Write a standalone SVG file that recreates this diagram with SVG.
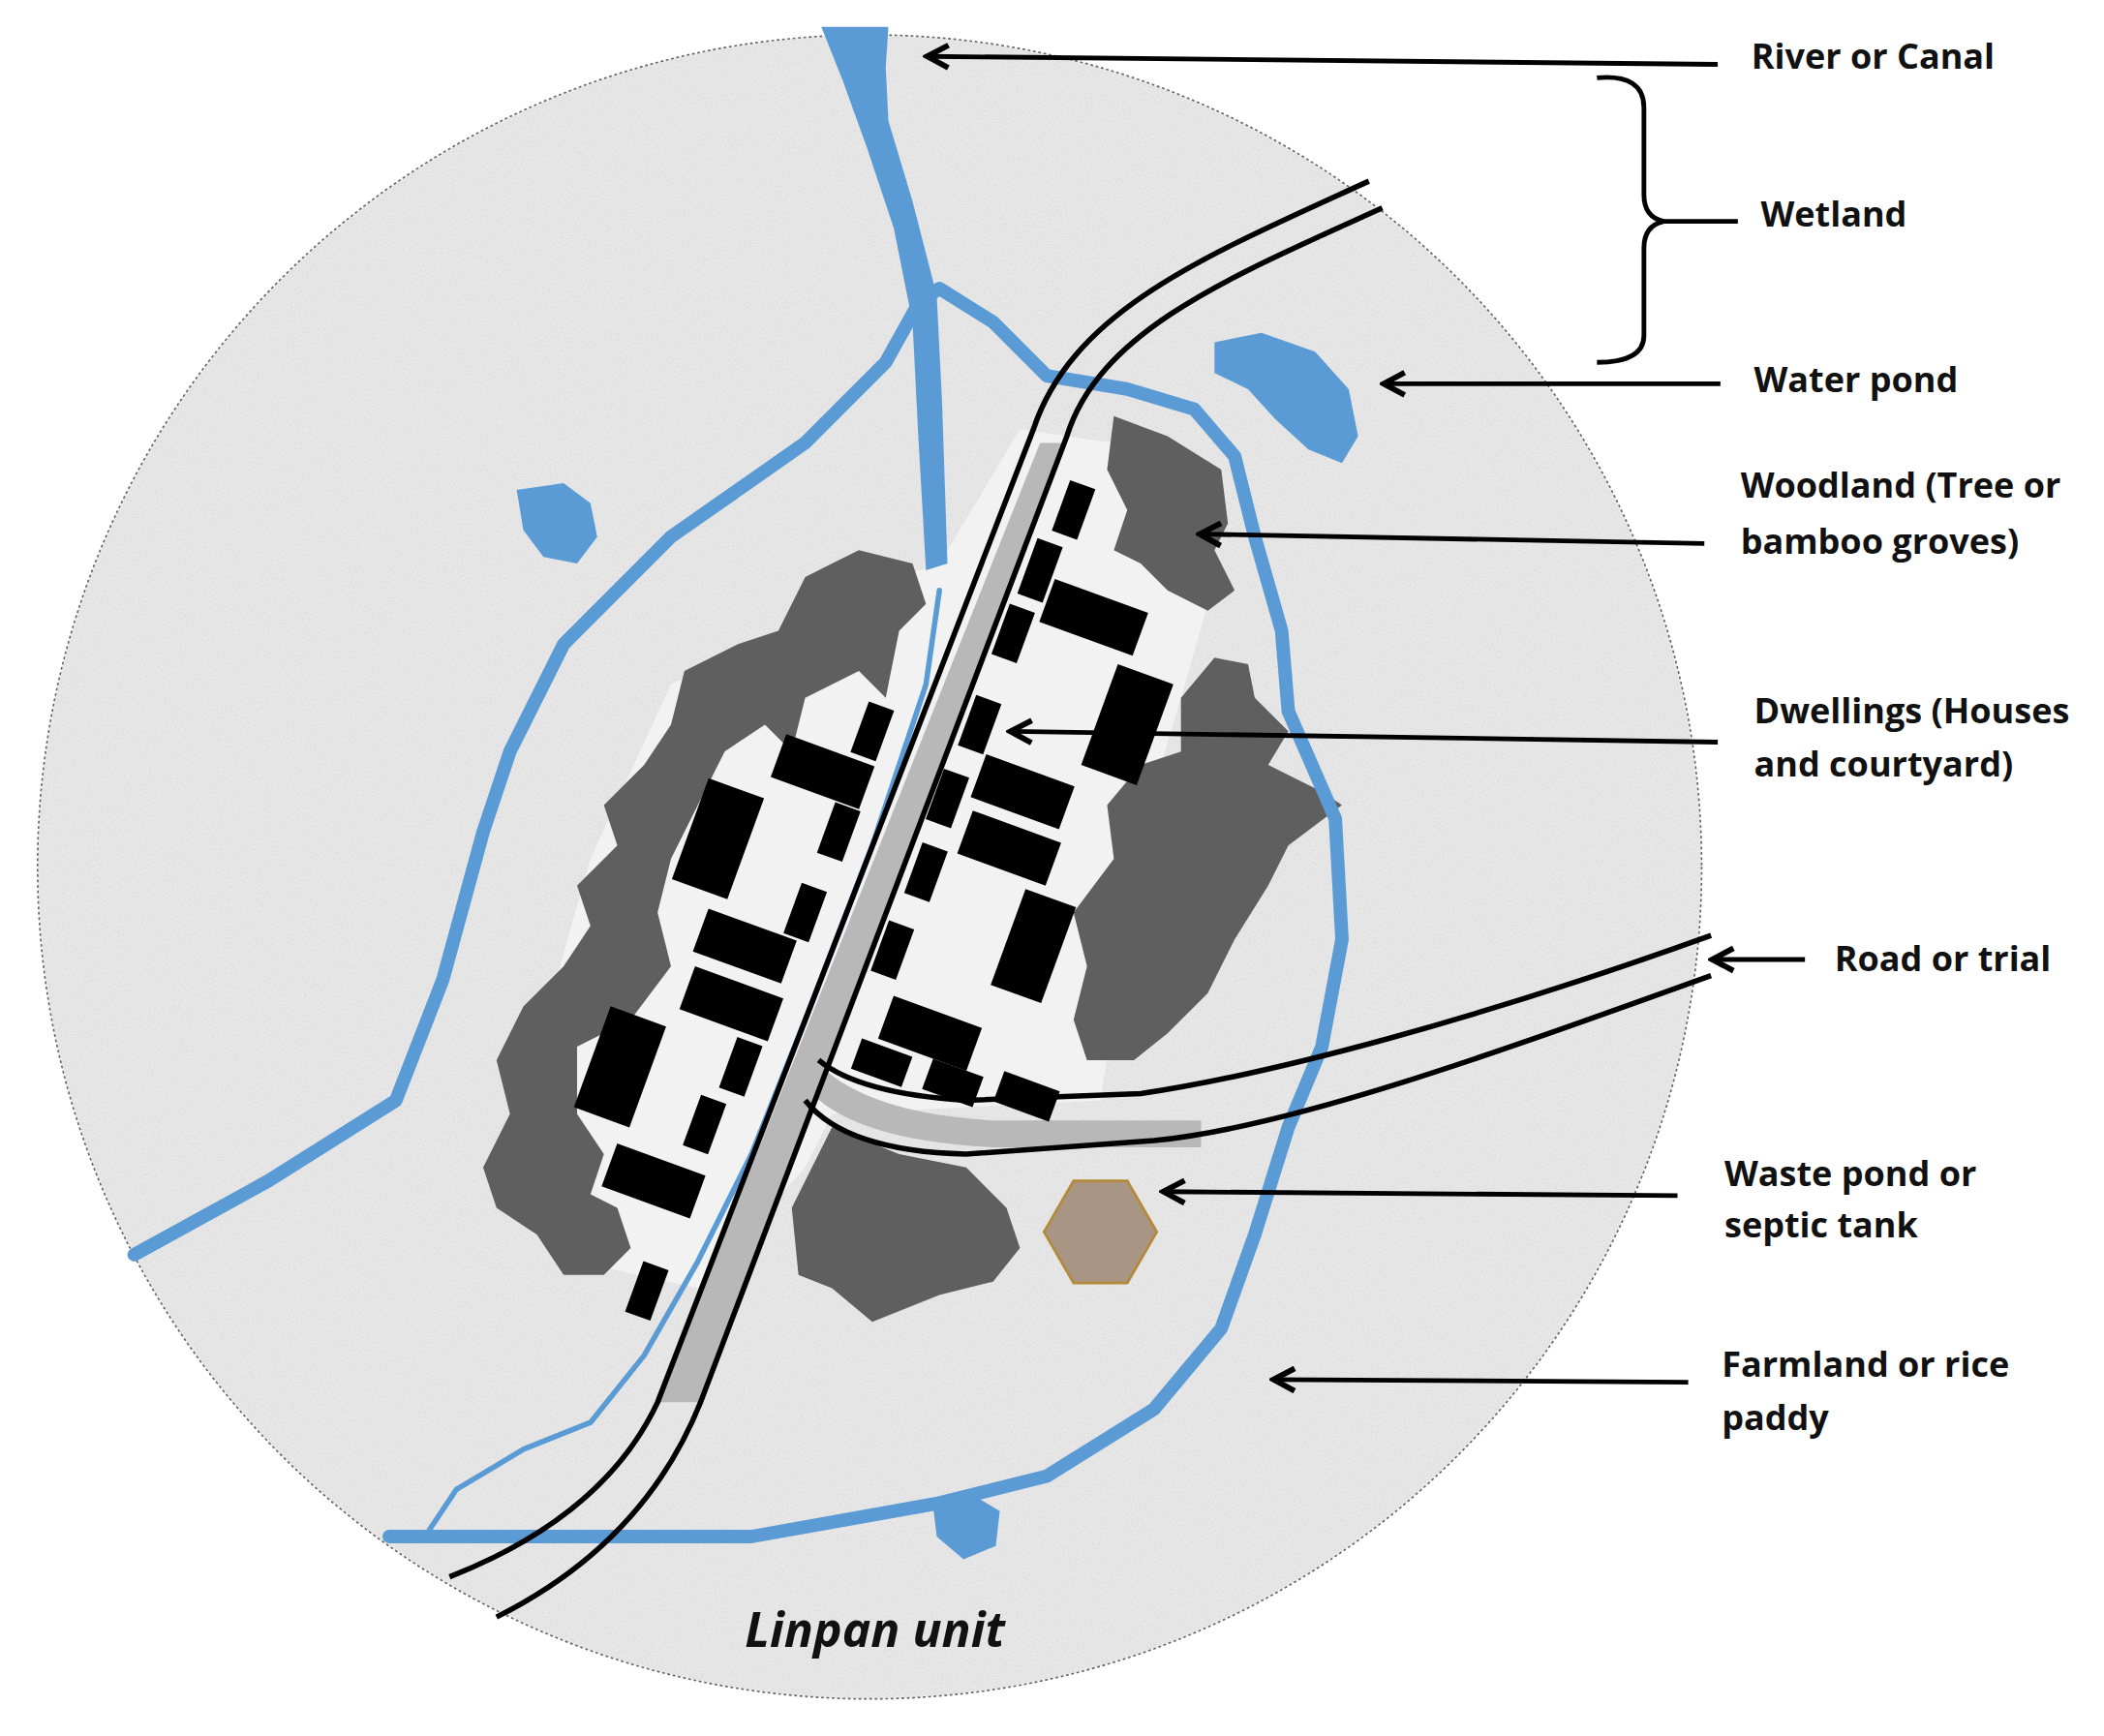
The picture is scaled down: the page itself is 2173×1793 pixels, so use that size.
<svg xmlns="http://www.w3.org/2000/svg" width="2173" height="1793" viewBox="0 0 2173 1793">
<style>
.lbl{font-family:"Open Sans","Liberation Sans",sans-serif;font-weight:bold;font-size:26px;fill:#111}
.ar{stroke:#000;stroke-width:3.5;fill:none}
.wood{fill:#5f5f5f}
.bld{fill:#000}
.water{fill:#5b9bd5}
.riv{stroke:#5b9bd5;fill:none;stroke-linecap:round;stroke-linejoin:round}
</style>
<defs>
<marker id="ah" viewBox="0 0 10 10" refX="8" refY="5" markerWidth="6" markerHeight="6" orient="auto" markerUnits="strokeWidth"><path d="M1,1 L8.5,5 L1,9" fill="none" stroke="#000" stroke-width="2"/></marker>
<filter id="grain"><feTurbulence type="fractalNoise" baseFrequency="0.9" numOctaves="2" seed="3"/><feColorMatrix values="0 0 0 0 0.6  0 0 0 0 0.6  0 0 0 0 0.6  0 0 0 -1.4 1.15"/><feComposite in2="SourceGraphic" operator="in"/></filter>
</defs>
<rect width="2173" height="1793" fill="#fff"/>
<g transform="scale(1.386)">
<g id="farmland">
<circle cx="648" cy="646" r="620" fill="#ececec" stroke="#666" stroke-width="1.2" stroke-dasharray="2,2"/>
<circle cx="648" cy="646" r="619" fill="#fff" filter="url(#grain)" opacity="0.5"/>
</g>
<g id="settlement">
<path d="M500,510 L640,440 L700,420 L760,320 L830,330 L900,450 L880,520 L850,620 L820,820 L620,830 L600,870 L520,960 L430,940 L400,780 L440,640 Z" fill="#f2f2f2"/>
</g>
<g id="woodland">
<path class="wood" d="M620,420 L640,410 L680,420 L690,450 L670,470 L660,520 L640,500 L600,520 L590,560 L570,540 L540,560 L520,600 L500,640 L490,680 L500,720 L470,760 L430,780 L430,830 L450,860 L440,890 L460,900 L470,930 L450,950 L420,950 L400,920 L370,900 L360,870 L380,830 L370,790 L390,750 L420,720 L440,690 L430,660 L460,630 L450,600 L480,570 L500,540 L510,500 L550,480 L580,470 L600,430 Z"/>
<path class="wood" d="M830,310 L870,325 L910,350 L915,390 L905,410 L920,440 L900,455 L870,440 L850,420 L830,410 L840,380 L825,350 Z"/>
<path class="wood" d="M905,490 L930,495 L935,520 L960,545 L945,570 L985,590 L1000,600 L960,630 L945,660 L920,700 L900,740 L870,770 L845,790 L810,790 L800,760 L810,720 L800,680 L830,640 L825,600 L850,570 L880,560 L880,520 Z"/>
<path class="wood" d="M620,840 L670,860 L720,870 L750,900 L760,930 L740,955 L700,965 L650,985 L620,960 L595,950 L590,900 L605,870 Z"/>
</g>
<g id="river">
<path class="water" d="M612,20 L662,20 L660,50 L662,90 L680,150 L698,220 L702,300 L706,420 L690,425 L684,320 L680,240 L666,170 L646,110 L628,60 Z"/>
<path class="riv" stroke-width="10" d="M100,935 L200,880 L295,820 L330,730 L360,620 L380,560 L420,480 L500,400 L600,330 L660,270 L685,225 L700,215 L740,240 L780,280 L840,290 L890,305 L920,340 L935,400 L955,470 L960,530 L995,610 L1000,700 L985,780 L960,840 L935,920 L910,990 L860,1050 L780,1100 L700,1120 L560,1145 L420,1145 L290,1145"/>
<path class="riv" stroke-width="4" d="M320,1140 L340,1110 L390,1080 L440,1060 L480,1010 L520,940 L560,860 L600,760 L650,630 L690,510 L700,440"/>
</g>
<g id="ponds">
<path class="water" d="M905,255 L940,248 L980,262 L1005,290 L1012,325 L1000,345 L975,335 L950,312 L930,290 L905,278 Z"/>
<path class="water" d="M385,365 L420,360 L440,375 L445,400 L430,420 L405,415 L390,395 Z"/>
<path class="water" d="M695,1120 L725,1114 L745,1126 L742,1152 L718,1162 L698,1145 Z"/>
</g>
<g id="road">
<path d="M775,330 L795,330 L520,1045 L490,1045 Z" fill="#b8b8b8"/>
<path d="M612,795 Q650,830 740,835 L895,835 L895,855 L740,855 Q640,850 605,815 Z" fill="#b8b8b8"/>
<path d="M1020,135 C900,190 800,230 770,320 L490,1045 Q450,1130 335,1175" stroke="#000" stroke-width="4" fill="none"/>
<path d="M1030,155 C920,205 820,245 795,325 L522,1045 Q480,1150 370,1205" stroke="#000" stroke-width="4" fill="none"/>
<path d="M1275,697 C1100,760 950,800 850,815 L720,820 Q640,815 610,790" stroke="#000" stroke-width="4" fill="none"/>
<path d="M1275,727 C1100,790 960,840 860,850 L720,860 Q630,858 600,820" stroke="#000" stroke-width="4" fill="none"/>
</g>
<g id="dwellings">
<rect class="bld" x="-10" y="-20" width="20" height="40" transform="translate(800,380) rotate(20)"/>
<rect class="bld" x="-10" y="-22" width="20" height="44" transform="translate(775,425) rotate(20)"/>
<rect class="bld" x="-10" y="-20" width="20" height="40" transform="translate(755,472) rotate(20)"/>
<rect class="bld" x="-37" y="-17" width="74" height="34" transform="translate(815,460) rotate(20)"/>
<rect class="bld" x="-22" y="-40" width="44" height="80" transform="translate(840,540) rotate(20)"/>
<rect class="bld" x="-10" y="-20" width="20" height="40" transform="translate(730,540) rotate(20)"/>
<rect class="bld" x="-10" y="-20" width="20" height="40" transform="translate(706,595) rotate(20)"/>
<rect class="bld" x="-35" y="-17" width="70" height="34" transform="translate(762,590) rotate(20)"/>
<rect class="bld" x="-35" y="-17" width="70" height="34" transform="translate(752,632) rotate(20)"/>
<rect class="bld" x="-10" y="-20" width="20" height="40" transform="translate(690,650) rotate(20)"/>
<rect class="bld" x="-10" y="-20" width="20" height="40" transform="translate(665,708) rotate(20)"/>
<rect class="bld" x="-20" y="-38" width="40" height="76" transform="translate(770,705) rotate(20)"/>
<rect class="bld" x="-35" y="-17" width="70" height="34" transform="translate(693,770) rotate(20)"/>
<rect class="bld" x="-20" y="-12" width="40" height="24" transform="translate(657,792) rotate(20)"/>
<rect class="bld" x="-20" y="-12" width="40" height="24" transform="translate(710,807) rotate(20)"/>
<rect class="bld" x="-22" y="-12" width="44" height="24" transform="translate(765,817) rotate(20)"/>
<rect class="bld" x="-10" y="-20" width="20" height="40" transform="translate(650,545) rotate(20)"/>
<rect class="bld" x="-35" y="-17" width="70" height="34" transform="translate(613,575) rotate(20)"/>
<rect class="bld" x="-10" y="-20" width="20" height="40" transform="translate(625,620) rotate(20)"/>
<rect class="bld" x="-22" y="-40" width="44" height="80" transform="translate(535,625) rotate(20)"/>
<rect class="bld" x="-10" y="-20" width="20" height="40" transform="translate(600,680) rotate(20)"/>
<rect class="bld" x="-35" y="-17" width="70" height="34" transform="translate(555,705) rotate(20)"/>
<rect class="bld" x="-35" y="-17" width="70" height="34" transform="translate(545,748) rotate(20)"/>
<rect class="bld" x="-22" y="-40" width="44" height="80" transform="translate(462,795) rotate(20)"/>
<rect class="bld" x="-10" y="-20" width="20" height="40" transform="translate(552,795) rotate(20)"/>
<rect class="bld" x="-10" y="-20" width="20" height="40" transform="translate(525,838) rotate(20)"/>
<rect class="bld" x="-35" y="-17" width="70" height="34" transform="translate(487,880) rotate(20)"/>
<rect class="bld" x="-10" y="-20" width="20" height="40" transform="translate(482,962) rotate(20)"/>
</g>
<g id="waste-pond">
<polygon points="800,880 840,880 862,918 840,956 800,956 778,918" fill="#a89584" stroke="#b38a3a" stroke-width="2"/>
</g>
<g id="connectors">
<path class="ar" marker-end="url(#ah)" d="M1280,48 L692,42"/>
<path d="M1190,58 Q1225,55 1225,80 L1225,145 Q1225,162 1240,165 L1295,165 M1240,165 Q1225,168 1225,185 L1225,250 Q1225,270 1190,270" class="ar"/>
<path class="ar" marker-end="url(#ah)" d="M1282,286 L1032,286"/>
<path class="ar" marker-end="url(#ah)" d="M1270,405 L895,398"/>
<path class="ar" marker-end="url(#ah)" d="M1280,553 L754,545"/>
<path class="ar" marker-end="url(#ah)" d="M1345,715 L1277,715"/>
<path class="ar" marker-end="url(#ah)" d="M1250,891 L868,888"/>
<path class="ar" marker-end="url(#ah)" d="M1258,1030 L950,1028"/>
</g>
<g id="labels">
<text class="lbl" x="1305" y="51">River or Canal</text>
<text class="lbl" x="1312" y="169">Wetland</text>
<text class="lbl" x="1307" y="292">Water pond</text>
<text class="lbl" x="1297" y="371">Woodland (Tree or</text>
<text class="lbl" x="1297" y="413">bamboo groves)</text>
<text class="lbl" x="1307" y="539">Dwellings (Houses</text>
<text class="lbl" x="1307" y="579">and courtyard)</text>
<text class="lbl" x="1367" y="724">Road or trial</text>
<text class="lbl" x="1285" y="884">Waste pond or</text>
<text class="lbl" x="1285" y="922">septic tank</text>
<text class="lbl" x="1283" y="1026">Farmland or rice</text>
<text class="lbl" x="1283" y="1066">paddy</text>
<text x="555" y="1227" style="font-family:'Open Sans','Liberation Sans',sans-serif;font-weight:bold;font-style:italic;font-size:36px;fill:#111">Linpan unit</text>
</g>
</g>
</svg>
